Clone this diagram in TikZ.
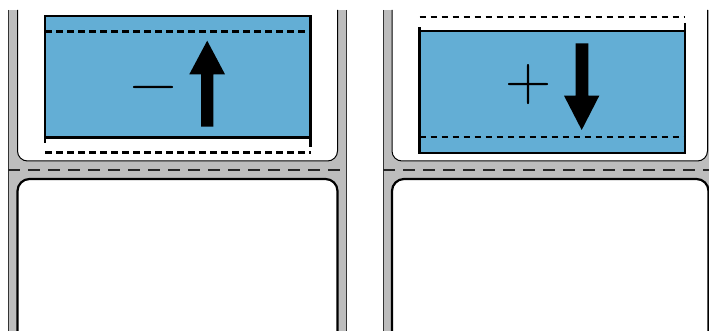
\documentclass[tikz,border=0pt]{standalone}
\usepackage{fontspec}
\setmainfont{Latin Modern Roman}
\definecolor{stripgray}{HTML}{BDBDBD}
\definecolor{labelblue}{HTML}{63AED5}
\begin{document}
\begin{tikzpicture}[x=1pt,y=-1pt,
  stripfill/.style={fill=stripgray},
  stripedge/.style={draw=black!80,line width=1pt},
  toplabel/.style={draw=black,line width=1pt,fill=white,rounded corners=10pt},
  botlabel/.style={draw=black,line width=2.2pt,fill=white,rounded corners=12pt},
  sepline/.style={draw=black!85,line width=1.2pt,dash pattern=on 12pt off 8pt},
  bluebox/.style={draw=black,line width=2.2pt,fill=labelblue},
  guide/.style={draw=black,line width=2.3pt,dash pattern=on 6.5pt off 4.5pt},
  sideline/.style={draw=black,line width=2.2pt},
  bigarrow/.style={fill=black},
  sign/.style={inner sep=0pt,anchor=base,font=\fontsize{64}{64}\selectfont}]
\useasboundingbox (0,0) rectangle (709,331);
\begin{scope}
\clip (0,0) rectangle (709,331);
% ---------- left panel ----------
\fill[stripfill] (8,10) rectangle (346.5,340);
\draw[stripedge] (8,10) -- (8,340);
\draw[stripedge] (346.5,10) -- (346.5,340);
\fill[white] (17.5,10) rectangle (337.5,150);
\draw[toplabel] (17.5,10) -- (17.5,161) -- (337.5,161) -- (337.5,10);
\draw[botlabel] (17.5,345) -- (17.5,179) -- (337.5,179) -- (337.5,345);
\draw[sepline] (8,170) -- (346.5,170);
\draw[bluebox] (45,16) rectangle (310.5,137.5);
\draw[guide] (45,31.5) -- (310.5,31.5);
\draw[guide] (45,152.5) -- (310.5,152.5);
\draw[sideline] (45,137.5) -- (45,143);
\draw[sideline] (310.5,137.5) -- (310.5,147);
\node[sign] (minus) at (154,103.5) {−};
\fill[bigarrow] (201,126.7) -- (213.3,126.7) -- (213.3,74.3) -- (225,74.3)
  -- (207.2,40.7) -- (189.3,74.3) -- (201,74.3) -- cycle;
% ---------- right panel ----------
\fill[stripfill] (383,10) rectangle (720,340);
\draw[stripedge] (383,10) -- (383,340);
\draw[toplabel] (392,10) -- (392,161) -- (707.5,161) -- (707.5,10);
\draw[botlabel] (392,345) -- (392,179) -- (708.5,179) -- (708.5,345);
\draw[sepline] (383,170) -- (720,170);
\draw[bluebox] (419.5,30.7) rectangle (685,153.3);
\draw[guide] (419.5,16.7) -- (685,16.7);
\draw[guide] (419.5,137.3) -- (685,137.3);
\draw[sideline] (419.5,27.5) -- (419.5,30.7);
\draw[sideline] (685,23) -- (685,30.7);
\node[sign] (plus) at (528.5,101) {+};
\fill[bigarrow] (575.7,43.3) -- (588.3,43.3) -- (588.3,95.7) -- (599.3,95.7)
  -- (581.7,130) -- (564,95.7) -- (575.7,95.7) -- cycle;
\end{scope}
\end{tikzpicture}
\end{document}
